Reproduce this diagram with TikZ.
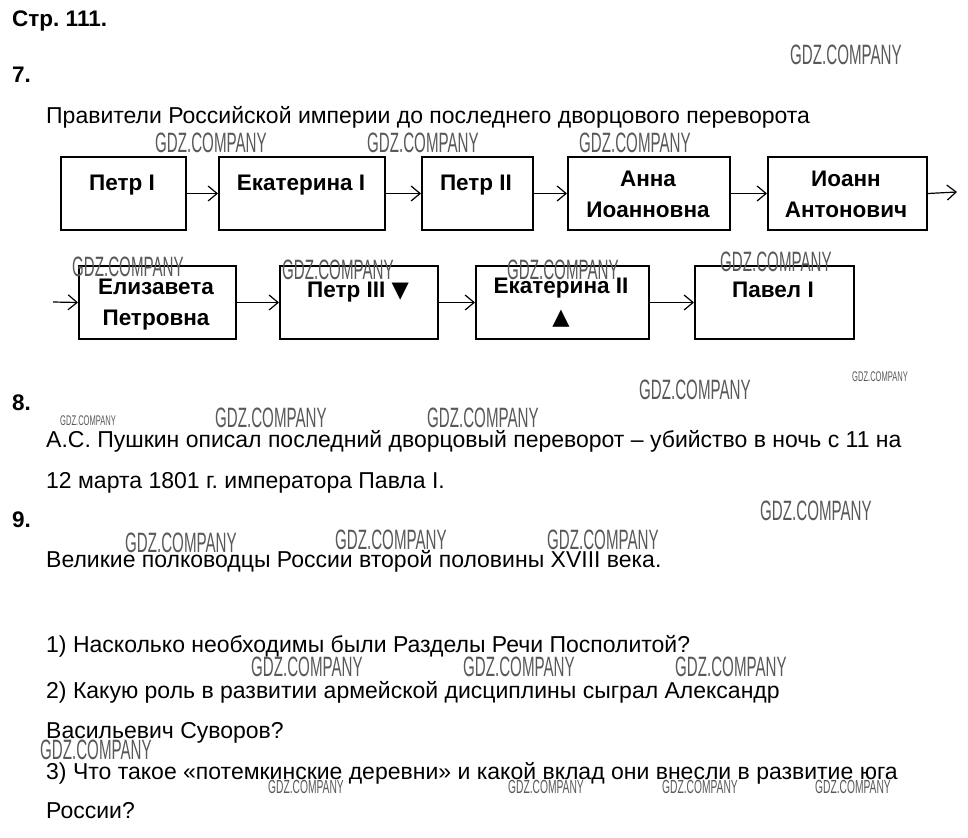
\documentclass[tikz,border=0pt]{standalone}
\usepackage{fontspec}
\setmainfont{Liberation Sans}
\newfontfamily\wmfont{Liberation Sans}[FakeStretch=0.54]
\newfontfamily\symfont{DejaVu Sans}
\usetikzlibrary{arrows.meta}
\frenchspacing
\begin{document}
\begin{tikzpicture}[x=1pt,y=-1pt,
  box/.style={draw=black,line width=2pt,minimum width=#1,minimum height=73pt,inner sep=0pt,anchor=north west},
  lbl/.style={anchor=base,inner sep=0pt,font=\fontsize{22.5}{26}\selectfont\bfseries},
  txt/.style={anchor=base west,inner sep=0pt,font=\fontsize{23}{27}\selectfont},
  head/.style={anchor=base west,inner sep=0pt,font=\fontsize{22.5}{26}\selectfont\bfseries},
  arr/.style={line width=1.2pt,-{Straight Barb[length=9pt,width=15pt,line width=1.2pt]}},
  wm/.style={anchor=west,inner sep=0pt,text=black!65,font=\fontsize{#1}{#1}\selectfont\wmfont},
  wm/.default=28]
\useasboundingbox[fill=white] (0,0) rectangle (968,837);

% headings
\node[head] (h0) at (12,27) {Стр. 111.};
\node[head] (h7) at (12,83) {7.};
\node[txt] (t7) at (46,124) {Правители Российской империи до последнего дворцового переворота};

% row 1 boxes
\node[box=125pt] (b1) at (60,156) {};
\node[box=166pt] (b2) at (218,156) {};
\node[box=111pt] (b3) at (421,156) {};
\node[box=162pt] (b4) at (567,156) {};
\node[box=159pt] (b5) at (767,156) {};
\coordinate (out5) at (957,192);

\node[lbl] (l1) at (122,190) {Петр I};
\node[lbl] (l2) at (301,190) {Екатерина I};
\node[lbl] (l3) at (476,190) {Петр II};
\node[lbl] (l4a) at (648,186) {Анна};
\node[lbl] (l4b) at (648,217) {Иоанновна};
\node[lbl] (l5a) at (846,186) {Иоанн};
\node[lbl] (l5b) at (846,217) {Антонович};

% row 2 boxes
\coordinate (in6) at (53,302);
\node[box=157pt] (b6) at (78,265) {};
\node[box=158pt] (b7) at (279,265) {};
\node[box=173pt] (b8) at (475,265) {};
\node[box=159pt] (b9) at (694,265) {};

\node[lbl] (l6a) at (156,294) {Елизавета};
\node[lbl] (l6b) at (156,325) {Петровна};
\node[lbl] (l7) at (358,297) {Петр III {\symfont▼}};
\node[lbl] (l8a) at (561,293) {Екатерина II};
\node[lbl] (l8b) at (561,324) {\symfont▲};
\node[lbl] (l9) at (773,297) {Павел I};

% arrows
\draw[arr] (b1.east) -- (b2.west);
\draw[arr] (b2.east) -- (b3.west);
\draw[arr] (b3.east) -- (b4.west);
\draw[arr] (b4.east) -- (b5.west);
\draw[arr] (b5.east) -- (out5);
\draw[arr] (in6) -- (b6.west);
\draw[arr] (b6.east) -- (b7.west);
\draw[arr] (b7.east) -- (b8.west);
\draw[arr] (b8.east) -- (b9.west);

% section 8
\node[head] (h8) at (12,410) {8.};
\node[txt] (t8a) at (46,447) {А.С. Пушкин описал последний дворцовый переворот – убийство в ночь с 11 на};
\node[txt] (t8b) at (46,488) {12 марта 1801 г. императора Павла I.};

% section 9
\node[head] (h9) at (12,527) {9.};
\node[txt] (t9) at (46,567) {Великие полководцы России второй половины XVIII века.};
\node[txt] (q1) at (46,652) {1) Насколько необходимы были Разделы Речи Посполитой?};
\node[txt] (q2a) at (46,698) {2) Какую роль в развитии армейской дисциплины сыграл Александр};
\node[txt] (q2b) at (46,738) {Васильевич Суворов?};
\node[txt] (q3a) at (46,779) {3) Что такое «потемкинские деревни» и какой вклад они внесли в развитие юга};
\node[txt] (q3b) at (46,818) {России?};

% watermarks
\node[wm] (w1) at (790,55) {GDZ.COMPANY};
\node[wm] (w2) at (155,143) {GDZ.COMPANY};
\node[wm] (w3) at (367,143) {GDZ.COMPANY};
\node[wm] (w4) at (579,143) {GDZ.COMPANY};
\node[wm] (w5) at (72,267) {GDZ.COMPANY};
\node[wm] (w6) at (282,270) {GDZ.COMPANY};
\node[wm] (w7) at (507,270) {GDZ.COMPANY};
\node[wm] (w8) at (720,262) {GDZ.COMPANY};
\node[wm] (w9) at (639,390) {GDZ.COMPANY};
\node[wm=14] (w10) at (852,377) {GDZ.COMPANY};
\node[wm=14] (w11) at (60,421) {GDZ.COMPANY};
\node[wm] (w12) at (215,418) {GDZ.COMPANY};
\node[wm] (w13) at (427,418) {GDZ.COMPANY};
\node[wm] (w14) at (760,511) {GDZ.COMPANY};
\node[wm] (w15) at (125,543) {GDZ.COMPANY};
\node[wm] (w16) at (335,540) {GDZ.COMPANY};
\node[wm] (w17) at (547,540) {GDZ.COMPANY};
\node[wm] (w18) at (251,667) {GDZ.COMPANY};
\node[wm] (w19) at (463,667) {GDZ.COMPANY};
\node[wm] (w20) at (675,667) {GDZ.COMPANY};
\node[wm] (w21) at (40,750) {GDZ.COMPANY};
\node[wm=19] (w22) at (268,787) {GDZ.COMPANY};
\node[wm=19] (w23) at (508,787) {GDZ.COMPANY};
\node[wm=19] (w24) at (662,787) {GDZ.COMPANY};
\node[wm=19] (w25) at (815,787) {GDZ.COMPANY};
\end{tikzpicture}
\end{document}
